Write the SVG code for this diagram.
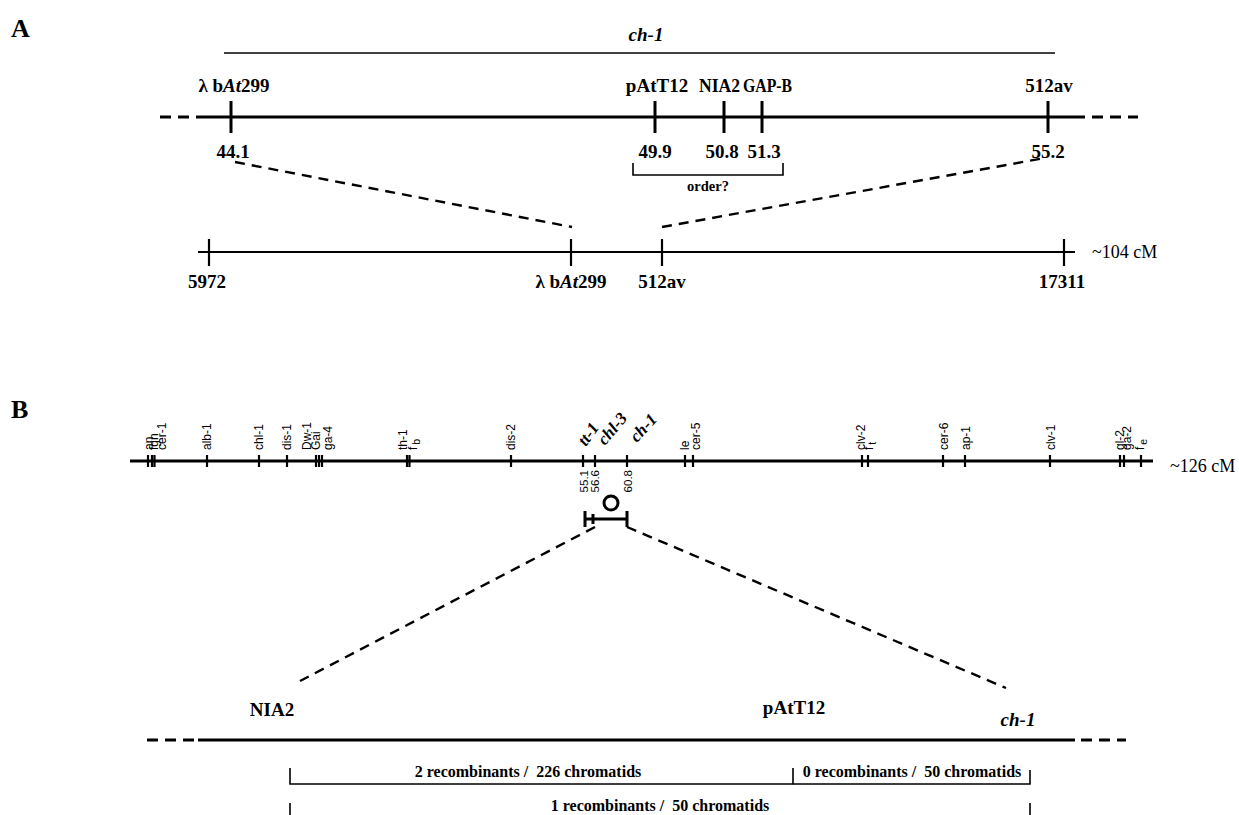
<svg xmlns="http://www.w3.org/2000/svg" width="1239" height="815" viewBox="0 0 1239 815">
<style>
.bg{fill:#fff}
.ln{stroke:#000;fill:none}
.thick{stroke-width:3}
.thin{stroke-width:1.6}
.dash{stroke-dasharray:11 7}
.sdash{stroke-dasharray:10 7;stroke-width:2.4}
.t{font-family:"Liberation Serif","Times New Roman",serif;font-weight:bold;fill:#000}
.lab{font-size:19px;text-anchor:middle}
.num{font-size:19px;text-anchor:middle}
.sm{font-size:16px;text-anchor:middle}
.ord{font-size:14.5px;text-anchor:middle}
.it{font-style:italic}
.cm{font-family:"Liberation Serif","Times New Roman",serif;font-size:18px;fill:#000}
.panel{font-family:"Liberation Serif","Times New Roman",serif;font-weight:bold;font-size:26px;fill:#000}
.gl{font-family:"Liberation Sans",Arial,sans-serif;font-size:12px;fill:#000}
.gn{font-family:"Liberation Sans",Arial,sans-serif;font-size:11.5px;fill:#000;text-anchor:end}
.ang{font-family:"Liberation Serif","Times New Roman",serif;font-weight:bold;font-style:italic;font-size:17px;fill:#000}
</style>
<rect class="bg" x="0" y="0" width="1239" height="815"/>

<g id="panelA">
  <text class="panel" x="11" y="37">A</text>
  <g id="ch1-span">
    <line class="ln thin" x1="224" y1="53" x2="1055" y2="53"/>
    <text class="t lab it" x="646" y="41" font-size="20">ch-1</text>
  </g>
  <g id="mapA-line">
    <line class="ln thick dash" x1="160" y1="117" x2="205" y2="117"/>
    <line class="ln thick" x1="205" y1="117" x2="1085" y2="117"/>
    <line class="ln thick dash" x1="1092" y1="117" x2="1138" y2="117"/>
  </g>
  <g id="mA-lbAt299">
    <line class="ln thick" x1="231" y1="101" x2="231" y2="133"/>
    <text class="t lab" x="234" y="92">λ b<tspan class="it">At</tspan>299</text>
    <text class="t num" x="233" y="158">44.1</text>
  </g>
  <g id="mA-pAtT12">
    <line class="ln thick" x1="655" y1="101" x2="655" y2="133"/>
    <text class="t lab" x="657" y="92">pAtT12</text>
    <text class="t num" x="655" y="158">49.9</text>
  </g>
  <g id="mA-NIA2">
    <line class="ln thick" x1="724" y1="101" x2="724" y2="133"/>
    <text class="t" font-size="19" x="699" y="92" textLength="41" lengthAdjust="spacingAndGlyphs">NIA2</text>
    <text class="t num" x="722" y="158">50.8</text>
  </g>
  <g id="mA-GAPB">
    <line class="ln thick" x1="762" y1="101" x2="762" y2="133"/>
    <text class="t" font-size="19" x="743" y="92" textLength="49" lengthAdjust="spacingAndGlyphs">GAP-B</text>
    <text class="t num" x="764" y="158">51.3</text>
  </g>
  <g id="mA-512av">
    <line class="ln thick" x1="1048" y1="101" x2="1048" y2="133"/>
    <text class="t lab" x="1049" y="92">512av</text>
    <text class="t num" x="1048" y="158">55.2</text>
  </g>
  <g id="order-bracket">
    <path class="ln thin" d="M633,163 V175 H783 V163"/>
    <text class="t ord" x="708" y="191">order?</text>
  </g>
  <g id="mapA2-line">
    <line class="ln" stroke-width="2" x1="198" y1="252" x2="1075" y2="252"/>
    <text class="cm" x="1092" y="258">~104 cM</text>
  </g>
  <g id="m2-5972">
    <line class="ln" stroke-width="2.2" x1="209" y1="239" x2="209" y2="266"/>
    <text class="t num" x="207" y="288">5972</text>
  </g>
  <g id="m2-lbAt299">
    <line class="ln" stroke-width="2.2" x1="571" y1="239" x2="571" y2="266"/>
    <text class="t num" x="571" y="288">λ b<tspan class="it">At</tspan>299</text>
  </g>
  <g id="m2-512av">
    <line class="ln" stroke-width="2.2" x1="662" y1="239" x2="662" y2="266"/>
    <text class="t num" x="662" y="288">512av</text>
  </g>
  <g id="m2-17311">
    <line class="ln" stroke-width="2.2" x1="1064" y1="239" x2="1064" y2="266"/>
    <text class="t num" x="1062" y="288">17311</text>
  </g>
</g>

<g id="panelB">
  <text class="panel" x="11" y="418">B</text>
  <g id="chromB-line">
    <line class="ln thick" x1="130" y1="461" x2="1153" y2="461"/>
    <text class="cm" x="1170" y="472">~126 cM</text>
  </g>
  <g id="chromB-ticks" class="ln" stroke-width="2.2">
    <path d="M148,455V467M152,455V467M154.5,455V467M207,455V467M259,455V467M287,455V467M316,455V467M319,455V467M322,455V467M407,455V467M409.5,455V467M511,455V467M583,455V467M595,455V467M627,455V467M685,455V467M693,455V467M862,455V467M868,455V467M943,455V467M965,455V467M1050,455V467M1120,455V467M1124,455V467M1141,455V467"/>
  </g>
  <g id="chromB-labels">
    <text class="gl" transform="translate(153,450) rotate(-90)">an</text>
    <text class="gl" transform="translate(158,450) rotate(-90)">fgn</text>
    <text class="gl" transform="translate(166,450) rotate(-90)">cer-1</text>
    <text class="gl" transform="translate(211,450) rotate(-90)">alb-1</text>
    <text class="gl" transform="translate(263,450) rotate(-90)">chl-1</text>
    <text class="gl" transform="translate(291,450) rotate(-90)">dis-1</text>
    <text class="gl" transform="translate(311,450) rotate(-90)">Dw-1</text>
    <text class="gl" transform="translate(320,450) rotate(-90)">Gai</text>
    <text class="gl" transform="translate(332,450) rotate(-90)">ga-4</text>
    <text class="gl" transform="translate(407,450) rotate(-90)">th-1</text>
    <text class="gl" transform="translate(417,450) rotate(-90)">f<tspan dx="2" dy="3" font-size="10.5">b</tspan></text>
    <text class="gl" transform="translate(515,450) rotate(-90)">dis-2</text>
    <text class="gl" transform="translate(689,450) rotate(-90)">le</text>
    <text class="gl" transform="translate(700,450) rotate(-90)">cer-5</text>
    <text class="gl" transform="translate(865,450) rotate(-90)">clv-2</text>
    <text class="gl" transform="translate(873,450) rotate(-90)">f<tspan dx="2" dy="3" font-size="10.5">t</tspan></text>
    <text class="gl" transform="translate(948,450) rotate(-90)">cer-6</text>
    <text class="gl" transform="translate(970,450) rotate(-90)">ap-1</text>
    <text class="gl" transform="translate(1055,450) rotate(-90)">clv-1</text>
    <text class="gl" transform="translate(1124,450) rotate(-90)">gl-2</text>
    <text class="gl" transform="translate(1131,450) rotate(-90)">ga-2</text>
    <text class="gl" transform="translate(1144,450) rotate(-90)">f<tspan dx="2" dy="3" font-size="10.5">e</tspan></text>
  </g>
  <g id="chromB-highlight">
    <text class="ang" transform="translate(586,447) rotate(-55)">tt-1</text>
    <text class="ang" transform="translate(605,446) rotate(-50)">chl-3</text>
    <text class="ang" transform="translate(637,443) rotate(-48)">ch-1</text>
    <text class="gn" transform="translate(588,470) rotate(-90)">55.1</text>
    <text class="gn" transform="translate(599,470) rotate(-90)">56.6</text>
    <text class="gn" transform="translate(632,470) rotate(-90)">60.8</text>
  </g>
  <g id="ch1-position">
    <circle class="ln" stroke-width="3" cx="611" cy="503" r="7"/>
    <path class="ln thick" d="M585,519H627M585,511V527M627,511V527M593,514V524"/>
  </g>
  <g id="mapB2-line">
    <line class="ln thick dash" x1="147" y1="740" x2="198" y2="740"/>
    <line class="ln thick" x1="198" y1="740" x2="1075" y2="740"/>
    <line class="ln thick dash" x1="1081" y1="740" x2="1126" y2="740"/>
  </g>
  <g id="b2-NIA2"><text class="t lab" x="272" y="716">NIA2</text></g>
  <g id="b2-pAtT12"><text class="t lab" x="794" y="714">pAtT12</text></g>
  <g id="b2-ch1"><text class="t lab it" x="1018" y="726">ch-1</text></g>
  <g id="rec-2-226">
    <path class="ln thin" d="M290,768V784H793V768"/>
    <text class="t sm" x="528" y="777">2 recombinants /&#160; 226 chromatids</text>
  </g>
  <g id="rec-0-50">
    <path class="ln thin" d="M793,784H1030V770"/>
    <text class="t sm" x="912" y="777">0 recombinants /&#160; 50 chromatids</text>
  </g>
  <g id="rec-1-50">
    <path class="ln thin" d="M290,803V815M1030,803V815"/>
    <text class="t sm" x="660" y="811">1 recombinants /&#160; 50 chromatids</text>
  </g>
</g>

<g id="connectors">
  <line class="ln sdash" x1="235" y1="162" x2="572" y2="227"/>
  <line class="ln sdash" x1="662" y1="227" x2="1045" y2="158"/>
  <line class="ln sdash" x1="595" y1="527" x2="300" y2="681"/>
  <line class="ln sdash" x1="627" y1="527" x2="1006" y2="688"/>
</g>
</svg>
